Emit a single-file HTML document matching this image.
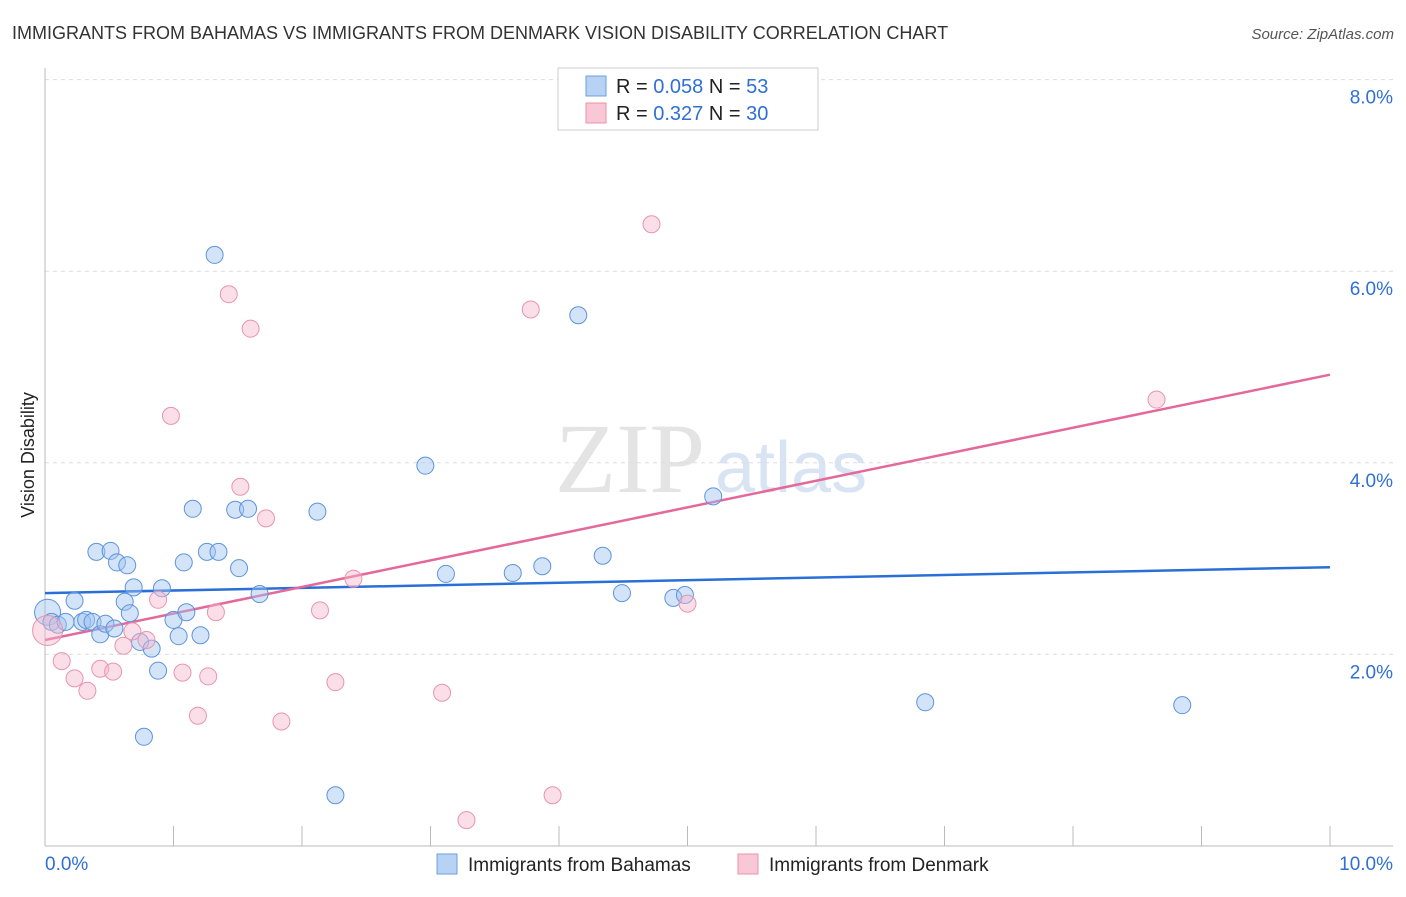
<!DOCTYPE html>
<html><head><meta charset="utf-8"><style>
body{margin:0;background:#fff;font-family:"Liberation Sans",sans-serif}
</style></head><body>
<svg width="1406" height="892" xmlns="http://www.w3.org/2000/svg" id="chart">
<text x="12" y="39" font-size="18" fill="#333">IMMIGRANTS FROM BAHAMAS VS IMMIGRANTS FROM DENMARK VISION DISABILITY CORRELATION CHART</text>
<text x="1394" y="39" font-size="15" fill="#555" font-style="italic" text-anchor="end">Source: ZipAtlas.com</text>
<text transform="translate(34,455) rotate(-90)" font-size="18" fill="#222" text-anchor="middle">Vision Disability</text>
<text x="555" y="492" font-size="100" fill="#e4e4e4" font-family="Liberation Serif,serif">ZIP</text>
<text x="715" y="492" font-size="72" fill="#d8e4f4">atlas</text>
<g id="grid"></g><g id="axes"></g><g id="lines"></g><g id="pts"></g>
<g>
<rect x="558" y="68" width="260" height="62" fill="#fff" stroke="#ccc"/>
<rect x="586" y="76" width="20" height="20" fill="#b8d2f4" stroke="#6a9fe0"/>
<rect x="586" y="103" width="20" height="20" fill="#f9c8d6" stroke="#e890aa"/>
<text x="616" y="93" font-size="20" fill="#222">R = <tspan fill="#2f6fd6">0.058</tspan>   N = <tspan fill="#2f6fd6">53</tspan></text>
<text x="616" y="120" font-size="20" fill="#222">R =  <tspan fill="#2f6fd6">0.327</tspan>   N = <tspan fill="#2f6fd6">30</tspan></text>
</g>
<g>
<rect x="437" y="854" width="20" height="20" fill="#b8d2f4" stroke="#6a9fe0"/>
<text x="468" y="871" font-size="19" fill="#222">Immigrants from Bahamas</text>
<rect x="738" y="854" width="20" height="20" fill="#f9c8d6" stroke="#e890aa"/>
<text x="769" y="871" font-size="19" fill="#222">Immigrants from Denmark</text>
</g>
</svg>
<script>
const yTicks=[2,4,6,8];
const yTickLabels=["2.0%","4.0%","6.0%","8.0%"];
const xTicks=[0,1,2,3,4,5,6,7,8,9,10];
const bahamasX=[0.02,0.05,0.10,0.16,0.23,0.29,0.32,0.37,0.43,0.47,0.54,0.40,0.51,0.56,0.64,0.69,0.62,0.66,0.74,0.83,0.88,0.77,0.91,1.00,1.04,1.10,1.08,1.21,1.15,1.26,1.35,1.48,1.58,1.51,1.67,2.12,1.32,2.96,3.12,2.26,3.64,3.87,4.15,4.34,4.49,4.89,4.98,5.20,6.85,8.85];
const bahamasY=[2.44,2.34,2.31,2.34,2.56,2.34,2.36,2.34,2.21,2.32,2.27,3.07,3.08,2.96,2.93,2.70,2.55,2.43,2.13,2.06,1.83,1.14,2.69,2.36,2.19,2.44,2.96,2.20,3.52,3.07,3.07,3.51,3.52,2.90,2.63,3.49,6.17,3.97,2.84,0.53,2.85,2.92,5.54,3.03,2.64,2.59,2.62,3.65,1.50,1.47];
const denmarkX=[0.02,0.13,0.23,0.33,0.43,0.53,0.61,0.68,0.79,0.88,0.98,1.07,1.19,1.27,1.33,1.43,1.52,1.60,1.72,1.84,2.14,2.26,2.40,3.09,3.28,3.78,3.95,4.72,5.00,8.65];
const denmarkY=[2.25,1.93,1.75,1.62,1.85,1.82,2.09,2.24,2.15,2.57,4.49,1.81,1.36,1.77,2.44,5.76,3.75,5.40,3.42,1.30,2.46,1.71,2.79,1.60,0.27,5.60,0.53,6.49,2.53,4.66];
const bahamasTrend=[2.64,2.91];
const denmarkTrend=[2.15,4.92];
const NS="http://www.w3.org/2000/svg";
const xs=v=>45+v*128.5, ys=v=>846-v*95.8;
function mk(p,t,a){const e=document.createElementNS(NS,t);for(const k in a)e.setAttribute(k,a[k]);document.getElementById(p).appendChild(e);return e;}
yTicks.forEach((t,i)=>{
 const g=mk('grid','line',{x1:45,x2:1393,y1:ys(t),y2:ys(t),stroke:'#ddd','stroke-dasharray':'4,4'});
 
 
 const l=mk('grid','text',{x:1393,y:ys(t)+24,'font-size':19,fill:'#2f6fd6','text-anchor':'end'});
 l.textContent=yTickLabels[i];
 
 
});
const ax=mk('axes','line',{x1:45,x2:1393,y1:846,y2:846,stroke:'#bbb'});


const ay=mk('axes','line',{x1:45,x2:45,y1:68,y2:846,stroke:'#bbb'});


xTicks.forEach(t=>{
 const k=mk('axes','line',{x1:xs(t),x2:xs(t),y1:826,y2:846,stroke:'#bbb'});
 
 
});
const x0=mk('axes','text',{x:45,y:870,'font-size':19,fill:'#2f6fd6'});x0.textContent='0.0%';


const x1=mk('axes','text',{x:1393,y:870,'font-size':19,fill:'#2f6fd6','text-anchor':'end'});x1.textContent='10.0%';


bahamasX.forEach((x,i)=>{
 const c=mk('pts','circle',{cx:xs(x),cy:ys(bahamasY[i]),r:i==0?13:8.5,fill:'rgba(160,196,240,0.45)',stroke:'#5c94dc','stroke-width':1});
 
 
});
denmarkX.forEach((x,i)=>{
 const c=mk('pts','circle',{cx:xs(x),cy:ys(denmarkY[i]),r:i==0?15:8.5,fill:'rgba(246,184,204,0.45)',stroke:'#e994b0','stroke-width':1});
 
 
});
const lb=mk('lines','line',{x1:xs(0),x2:xs(10),y1:ys(bahamasTrend[0]),y2:ys(bahamasTrend[1]),stroke:'#2a6fd8','stroke-width':2.5});


const lp=mk('lines','line',{x1:xs(0),x2:xs(10),y1:ys(denmarkTrend[0]),y2:ys(denmarkTrend[1]),stroke:'#e5689a','stroke-width':2.5});


</script>
</body></html>
